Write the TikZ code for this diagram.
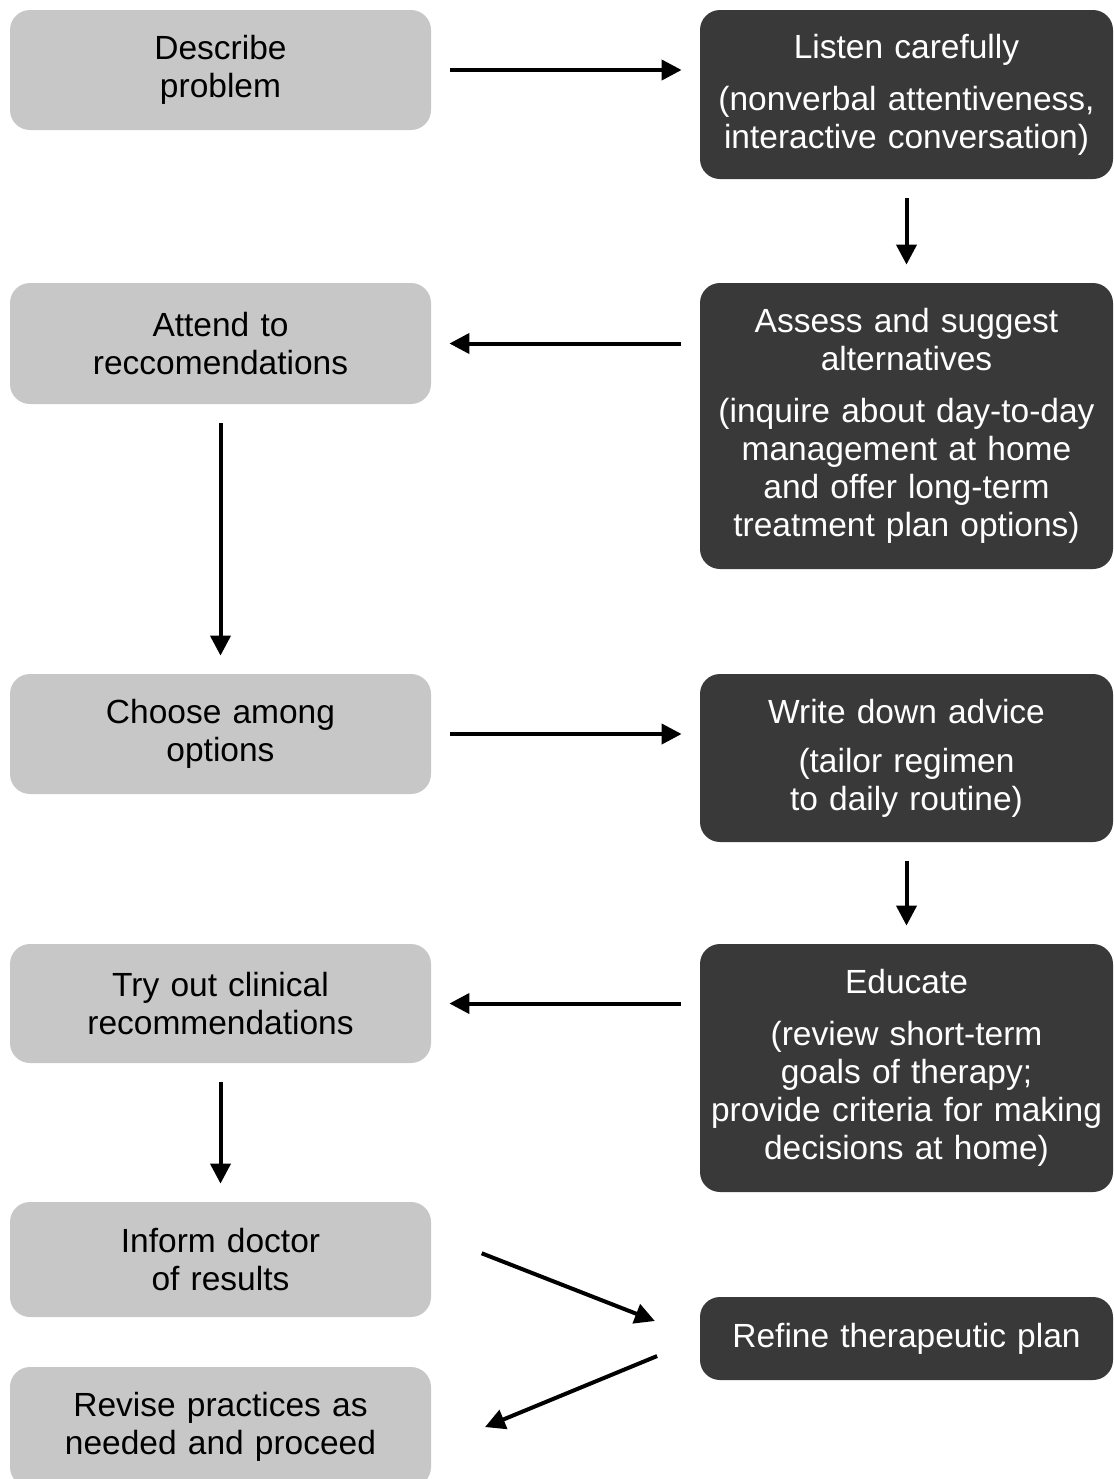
\documentclass[tikz,border=0pt]{standalone}
\usepackage{fontspec}
\setmainfont{Liberation Sans}
\usetikzlibrary{arrows.meta,positioning}
\definecolor{lightbox}{RGB}{199,199,199}
\definecolor{darkbox}{RGB}{57,57,57}

\begin{document}
\begin{tikzpicture}[x=0.5pt, y=-0.5pt,
    patient/.style={rectangle, draw=none, rounded corners=10pt, fill=lightbox,
        text=black, align=center, text width=200pt, minimum width=210.5pt,
        inner sep=2pt, font=\fontsize{16.75}{19}\selectfont},
    doctor/.style={rectangle, draw=none, rounded corners=10pt, fill=darkbox,
        text=white, align=center, text width=200pt, minimum width=206.5pt,
        inner sep=2pt, font=\fontsize{16.75}{19}\selectfont},
    flow/.style={-{Triangle[length=10pt,width=10pt]}, line width=2pt,
        shorten <=9.5pt, shorten >=9pt}
    ]
    \clip (0,0) rectangle (1114,1479);
    % left column: what the patient does
    \node (Patient01) [patient, minimum height=60pt] at (220.5,70) {Describe\\problem};
    \node (Patient02) [patient, minimum height=60.5pt] at (220.5,343.5) {Attend to\\reccomendations};
    \node (Patient03) [patient, minimum height=60pt] at (220.5,734) {Choose among\\options};
    \node (Patient04) [patient, minimum height=59.5pt] at (220.5,1003.5) {Try out clinical\\recommendations};
    \node (Patient05) [patient, minimum height=57.5pt] at (220.5,1259.5) {Inform doctor\\of results};
    \node (Patient06) [patient, minimum height=60pt] at (220.5,1427) {Revise practices as\\needed and proceed};
    % right column: what the doctor does
    \node (Doctor01) [doctor, minimum height=84.5pt] at (906.5,94.5)
        {Listen carefully\\[7pt](nonverbal attentiveness,\\interactive conversation)};
    \node (Doctor02) [doctor, minimum height=143pt] at (906.5,426)
        {Assess and suggest\\alternatives\\[7pt](inquire about day-to-day\\management at home\\and offer long-term\\treatment plan options)};
    \node (Doctor03) [doctor, minimum height=84pt] at (906.5,758)
        {Write down advice\\[5.5pt](tailor regimen\\to daily routine)};
    \node (Doctor04) [doctor, minimum height=124pt] at (906.5,1068)
        {Educate\\[7pt](review short-term\\goals of therapy;\\provide criteria for making\\decisions at home)};
    \node (Doctor05) [doctor, minimum height=41.5pt] at (906.5,1338.5) {Refine therapeutic plan};

    \draw [flow] (Patient01) -- (Doctor01.west |- Patient01);
    \draw [flow] (Doctor01) -- (Doctor02);
    \draw [flow] (Doctor02.west |- Patient02) -- (Patient02);
    \draw [flow] (Patient02) -- (Patient03);
    \draw [flow] (Patient03) -- (Doctor03.west |- Patient03);
    \draw [flow] (Doctor03) -- (Doctor04);
    \draw [flow] (Doctor04.west |- Patient04) -- (Patient04);
    \draw [flow] (Patient04) -- (Patient05);
    \draw [flow, shorten <=27pt, shorten >=24pt] (Patient05.7) -- (Doctor05.west);
    \draw [flow, shorten <=23pt, shorten >=29pt] (Doctor05.west) -- (Patient06.354);
\end{tikzpicture}
\end{document}
